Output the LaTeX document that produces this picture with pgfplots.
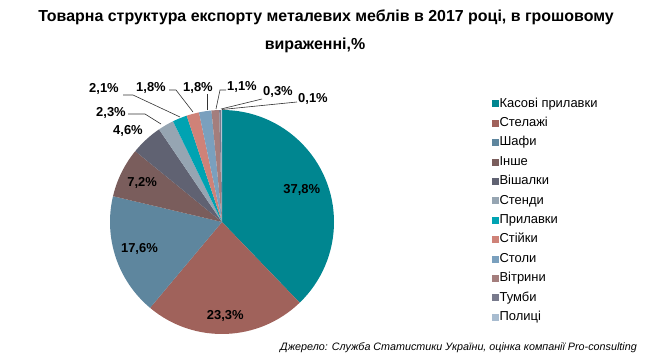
\documentclass[border=0pt]{standalone}
\usepackage{fontspec}
\setmainfont{Liberation Sans}
\usepackage{pgfplots}
\pgfplotsset{compat=1.18}
\usepackage{pgfplotstable}

\definecolor{pc0}{RGB}{0,134,144}
\definecolor{pc1}{RGB}{160,98,91}
\definecolor{pc2}{RGB}{94,134,158}
\definecolor{pc3}{RGB}{122,93,92}
\definecolor{pc4}{RGB}{96,98,114}
\definecolor{pc5}{RGB}{150,165,178}
\definecolor{pc6}{RGB}{0,163,178}
\definecolor{pc7}{RGB}{207,130,120}
\definecolor{pc8}{RGB}{122,160,190}
\definecolor{pc9}{RGB}{164,126,125}
\definecolor{pc10}{RGB}{120,122,140}
\definecolor{pc11}{RGB}{168,188,208}

\pgfplotstableread[col sep=comma]{
name,val
Касові прилавки,37.8
Стелажі,23.3
Шафи,17.6
Інше,7.2
Вішалки,4.6
Стенди,2.3
Прилавки,2.1
Стійки,1.8
Столи,1.8
Вітрини,1.1
Тумби,0.3
Полиці,0.1
}\piedata

\begin{document}
\begin{tikzpicture}
\useasboundingbox (0,0) rectangle (665bp,360bp);
\pgfplotstablegetrowsof{\piedata}
\pgfmathtruncatemacro\lastrow{\pgfplotsretval-1}
\xdef\cum{0}
\foreach \i in {0,...,\lastrow}{
  \pgfplotstablegetelem{\i}{val}\of\piedata
  \let\v\pgfplotsretval
  \pgfmathsetmacro\sa{90-3.6*\cum}
  \pgfmathsetmacro\newcum{\cum+\v}
  \pgfmathsetmacro\ea{90-3.6*\newcum}
  \pgfmathsetmacro\ma{(\sa+\ea)/2}
  \expandafter\xdef\csname sS\i\endcsname{\sa}
  \expandafter\xdef\csname sE\i\endcsname{\ea}
  \expandafter\xdef\csname sM\i\endcsname{\ma}
  \xdef\cum{\newcum}
}
\begin{axis}[
  at={(0,0)}, anchor=south west,
  x=1bp, y=1bp, xmin=0, xmax=665, ymin=-360, ymax=0,
  hide axis, clip=false,
  legend cell align=left,
  legend image code/.code={\fill[#1] (0bp,-3bp) rectangle (6bp,3bp);},
  legend style={at={(axis cs:489,-94)}, anchor=north west, draw=none, fill=none,
    font=\fontsize{13}{15}\selectfont, row sep=4.4bp,
    nodes={inner sep=1bp, text height=10bp, text depth=3bp},
    /tikz/every even column/.append style={column sep=0bp}},
]
\pgfplotsinvokeforeach{0,...,11}{
  \fill[pc#1] (axis cs:222,-222) -- ++(\csname sS#1\endcsname:112bp)
    arc[start angle=\csname sS#1\endcsname, end angle=\csname sE#1\endcsname, radius=112bp] -- cycle;
}
\addlegendimage{pc0}\addlegendentry{Касові прилавки}
\addlegendimage{pc1}\addlegendentry{Стелажі}
\addlegendimage{pc2}\addlegendentry{Шафи}
\addlegendimage{pc3}\addlegendentry{Інше}
\addlegendimage{pc4}\addlegendentry{Вішалки}
\addlegendimage{pc5}\addlegendentry{Стенди}
\addlegendimage{pc6}\addlegendentry{Прилавки}
\addlegendimage{pc7}\addlegendentry{Стійки}
\addlegendimage{pc8}\addlegendentry{Столи}
\addlegendimage{pc9}\addlegendentry{Вітрини}
\addlegendimage{pc10}\addlegendentry{Тумби}
\addlegendimage{pc11}\addlegendentry{Полиці}

% inside labels
\begin{scope}[every node/.style={font=\bfseries\fontsize{13}{15}\selectfont, inner sep=0pt}]
\node at ([shift={(\csname sM0\endcsname:86bp)}]axis cs:222,-222) {37,8\%};
\node at ([shift={(\csname sM1\endcsname:94bp)}]axis cs:222,-222) {23,3\%};
\node at ([shift={(\csname sM2\endcsname:87bp)}]axis cs:222,-222) {17,6\%};
\node at ([shift={(\csname sM3\endcsname:89bp)}]axis cs:222,-222) {7,2\%};
% outside labels
\node at (axis cs:128,-131) {4,6\%};
\node at (axis cs:111,-113) {2,3\%};
\node at (axis cs:104,-89) {2,1\%};
\node at (axis cs:151,-88) {1,8\%};
\node at (axis cs:198,-88) {1,8\%};
\node at (axis cs:242,-87) {1,1\%};
\node at (axis cs:278,-92) {0,3\%};
\node at (axis cs:313,-99) {0,1\%};
\end{scope}
\begin{scope}[line width=0.6bp, black!80]
\draw (axis cs:128,-114) -- (axis cs:145,-114) -- (axis cs:161,-124);
\draw (axis cs:123,-95) -- (axis cs:133,-95) -- (axis cs:180,-117);
\draw (axis cs:169,-90) -- (axis cs:176,-90) -- (axis cs:193,-112);
\draw (axis cs:207,-94) -- (axis cs:207,-110);
\draw (axis cs:226,-90) -- (axis cs:220,-90) -- (axis cs:216,-109);
\draw (axis cs:262,-99) -- (axis cs:221,-109);
\draw (axis cs:297,-102) -- (axis cs:222,-109.5);
\end{scope}
% title
\node[font=\bfseries\fontsize{16}{19}\selectfont] at (axis cs:326,-17) {Товарна структура експорту металевих меблів в 2017 році, в грошовому};
\node[font=\bfseries\fontsize{16}{19}\selectfont] at (axis cs:315,-45) {вираженні,\%};
% source
\node[anchor=east, font=\itshape\fontsize{10.8}{13}\selectfont, inner sep=0pt] at (axis cs:637,-348) {Джерело: Служба Статистики України, оцінка компанії Pro-consulting};
\end{axis}
\end{tikzpicture}
\end{document}
